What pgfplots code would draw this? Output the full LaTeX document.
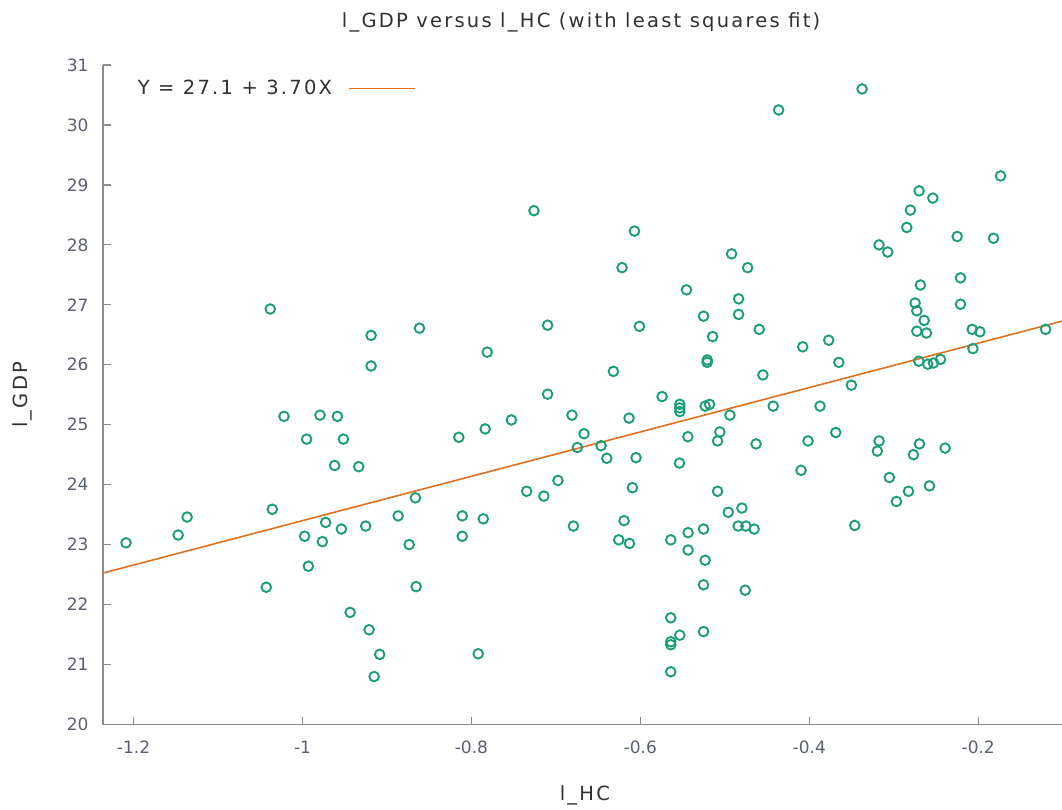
\documentclass[border=0pt]{standalone}
\usepackage{pgfplots}
\pgfplotsset{compat=1.18}
\usepackage{fontspec}
\setmainfont{DejaVu Sans}
\newfontfamily\lblfont[LetterSpace=11.5]{DejaVu Sans}
\definecolor{ptgreen}{HTML}{1B9E77}
\definecolor{ptorange}{HTML}{E07020}
\definecolor{axgray}{HTML}{8C8C8C}
\definecolor{tickgray}{HTML}{5A6070}
\definecolor{txt}{HTML}{303030}
\pgfplotsset{myline legend/.style={legend image code/.code={\draw[##1] (0pt,0pt) -- (66pt,0pt);}}}
\begin{document}
\begin{tikzpicture}[x=1pt,y=1pt]
\path[use as bounding box] (-103,-84.5) rectangle (959,724.5);
\begin{axis}[
  at={(0,0)}, anchor=south west,
  scale only axis, width=959pt, height=659.5pt,
  xmin=-1.2362, xmax=-0.1008, ymin=20, ymax=31,
  axis x line*=bottom, axis y line*=left,
  axis line style={axgray, line width=1.2pt},
  every outer x axis line/.append style={-}, every outer y axis line/.append style={-},
  tick align=inside, major tick length=8pt,
  tick style={axgray, line width=1.2pt},
  xtick={-1.2,-1,-0.8,-0.6,-0.4,-0.2},
  xticklabels={-1.2,-1,-0.8,-0.6,-0.4,-0.2},
  ytick={20,21,...,31},
  yticklabels={20,21,22,23,24,25,26,27,28,29,30,31},
  tick label style={font=\fontsize{17}{20}\selectfont, text=tickgray},
  xticklabel style={yshift=-13pt},
  yticklabel style={xshift=-11pt},
  title={l\_GDP versus l\_HC (with least squares fit)},
  title style={at={(axis description cs:0.4985,1.055)}, anchor=center, font=\lblfont\fontsize{19.5}{23}\selectfont, text=txt},
  xlabel={l\_HC},
  xlabel style={at={(axis description cs:0.5025,-0.107)}, anchor=center, font=\lblfont\fontsize{19.5}{23}\selectfont, text=txt},
  ylabel={l\_GDP},
  ylabel style={at={(axis description cs:-0.084,0.5)}, anchor=center, font=\lblfont\fontsize{19.5}{23}\selectfont, text=txt},
  legend plot pos=right,
  legend style={at={(axis description cs:0.034,0.98)}, anchor=north west, draw=none, fill=none,
    font=\lblfont\fontsize{19.5}{23}\selectfont, text=txt, inner sep=0pt, /tikz/column sep=14pt},
  legend cell align=left,
]
\addplot[only marks, mark=o, mark size=4.8pt, mark options={ptgreen, line width=1.9pt}, forget plot]
coordinates {
(-1.2089,23.03) (-1.1472,23.16) (-1.1366,23.46) (-1.0429,22.29) (-1.0382,26.93) (-1.0358,23.59)
(-1.0219,25.14) (-0.9793,25.16) (-0.9587,25.14) (-0.9951,24.76) (-0.9516,24.76) (-0.9619,24.32)
(-0.9335,24.30) (-0.8663,23.78) (-0.8868,23.48) (-0.9726,23.37) (-0.9975,23.14) (-0.9540,23.26)
(-0.9252,23.31) (-0.9765,23.05) (-0.8737,23.00) (-0.9931,22.64) (-0.8655,22.30) (-0.9437,21.87)
(-0.9212,21.58) (-0.9086,21.17) (-0.9152,20.80)
(-0.9188,26.49) (-0.9188,25.98) (-0.8615,26.61)
(-0.7260,28.57) (-0.6070,28.23) (-0.6217,27.62) (-0.4920,27.85) (-0.4730,27.62) (-0.5454,27.25)
(-0.4837,27.10) (-0.4837,26.84) (-0.5252,26.81) (-0.5145,26.47) (-0.5209,26.08) (-0.5209,26.04)
(-0.7098,26.66) (-0.6011,26.64) (-0.7813,26.21) (-0.6319,25.89) (-0.7098,25.51) (-0.5743,25.47)
(-0.3375,30.60) (-0.4363,30.25) (-0.1736,29.15) (-0.2700,28.90) (-0.2537,28.78) (-0.2803,28.58)
(-0.2846,28.29) (-0.2249,28.14) (-0.1819,28.11) (-0.3174,28.00) (-0.3071,27.88) (-0.2684,27.33)
(-0.2210,27.45) (-0.2747,27.03) (-0.2727,26.90) (-0.2210,27.01) (-0.2640,26.74) (-0.2727,26.56)
(-0.2613,26.53) (-0.2071,26.59) (-0.1980,26.55) (-0.1202,26.59) (-0.4593,26.59) (-0.3770,26.41)
(-0.4078,26.30) (-0.2063,26.27) (-0.3651,26.04) (-0.2703,26.06) (-0.2597,26.01) (-0.2530,26.03)
(-0.2447,26.09) (-0.4549,25.83) (-0.3502,25.66)
(-0.5533,25.34) (-0.5533,25.28) (-0.5533,25.22) (-0.5233,25.31) (-0.5181,25.34) (-0.4940,25.16)
(-0.8149,24.79) (-0.7837,24.93) (-0.7528,25.08) (-0.6810,25.16) (-0.6667,24.85) (-0.6134,25.11)
(-0.6746,24.62) (-0.6466,24.65) (-0.6398,24.44) (-0.6051,24.45) (-0.5438,24.80) (-0.5059,24.88)
(-0.5086,24.73) (-0.5537,24.36) (-0.4630,24.68)
(-0.7347,23.89) (-0.7142,23.81) (-0.6976,24.07) (-0.6094,23.95) (-0.5086,23.89)
(-0.8109,23.48) (-0.7860,23.43) (-0.8109,23.14) (-0.6793,23.31) (-0.6193,23.40) (-0.6256,23.08)
(-0.6129,23.02) (-0.5640,23.08) (-0.5435,23.20) (-0.5435,22.91) (-0.5252,23.26) (-0.5233,22.74)
(-0.4960,23.54) (-0.4798,23.61) (-0.4842,23.31) (-0.4750,23.31) (-0.4653,23.26)
(-0.5252,22.33) (-0.4759,22.24) (-0.7920,21.18) (-0.5640,21.78) (-0.5533,21.49) (-0.5640,21.38)
(-0.5640,21.33) (-0.5252,21.55) (-0.5640,20.88)
(-0.4427,25.31) (-0.3873,25.31) (-0.3687,24.87) (-0.4015,24.73) (-0.4098,24.24)
(-0.3174,24.73) (-0.3194,24.56) (-0.2696,24.68) (-0.2767,24.50) (-0.2392,24.61) (-0.3052,24.12)
(-0.2577,23.98) (-0.2826,23.89) (-0.2968,23.72) (-0.3462,23.32)
};
\addplot[ptorange, line width=1.6pt, myline legend]
coordinates {(-1.2362,22.526) (-0.1008,26.727)};
\addlegendentry{Y = 27.1 + 3.70X}
\end{axis}
\end{tikzpicture}
\end{document}
